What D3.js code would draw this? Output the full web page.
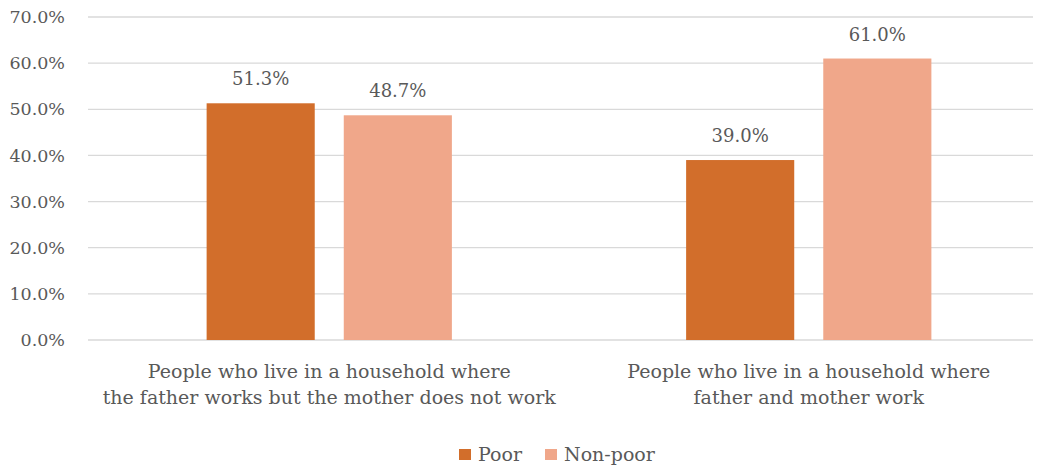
<!DOCTYPE html>
<html>
<head>
<meta charset="utf-8">
<script src="https://cdn.jsdelivr.net/npm/d3@7"></script>
<style>
  html, body { margin: 0; padding: 0; background: #fff; }
  svg text { font-family: "DejaVu Serif", "Liberation Serif", serif; fill: #595959; }
</style>
</head>
<body>
<svg id="chart" width="1043" height="470"></svg>
<script>
// Household categories (two-line labels)
const categories = [
  ["People who live in a household where", "the father works but the mother does not work"],
  ["People who live in a household where", "father and mother work"]
];
const seriesNames = ["Poor", "Non-poor"];
const poorValues = [51.3, 39.0];
const nonPoorValues = [48.7, 61.0];
const yTicks = [0, 10, 20, 30, 40, 50, 60, 70];
const seriesColors = ["#D26E2B", "#F0A78A"];

const svg = d3.select("#chart");
const plotTop = 17, plotBottom = 340, gridLeft = 88, gridRight = 1033;

const y = d3.scaleLinear().domain([0, 70]).range([plotBottom, plotTop]);
const x0 = d3.scaleBand().domain(d3.range(categories.length)).range([89.5, 1048.5]);
const x1 = d3.scaleBand().domain(seriesNames).range([0, x0.bandwidth()])
  .paddingInner(0.2117).paddingOuter(0.854);

// Gridlines
svg.append("g").selectAll("line").data(yTicks).join("line")
  .attr("x1", gridLeft).attr("x2", gridRight)
  .attr("y1", d => y(d)).attr("y2", d => y(d))
  .attr("stroke", "#d9d9d9").attr("stroke-width", 1.3);

// Y axis labels
const yAxis = d3.axisLeft(y).tickValues(yTicks).tickSize(0).tickPadding(0)
  .tickFormat(d => d.toFixed(1) + "%");
const yg = svg.append("g").attr("transform", "translate(65,0)").call(yAxis);
yg.select(".domain").remove();
yg.selectAll("text").attr("font-size", 17.5).attr("fill", "#595959")
  .style("font-family", "'DejaVu Serif', serif");

const rows = categories.map((c, i) => ({ i, vals: [poorValues[i], nonPoorValues[i]] }));

const groups = svg.append("g").selectAll("g").data(rows).join("g")
  .attr("transform", d => `translate(${x0(d.i)},0)`);

groups.selectAll("rect").data(d => d.vals.map((v, k) => ({ v, k }))).join("rect")
  .attr("x", d => x1(seriesNames[d.k]))
  .attr("width", x1.bandwidth())
  .attr("y", d => y(d.v))
  .attr("height", d => y(0) - y(d.v))
  .attr("fill", d => seriesColors[d.k]);

groups.selectAll("text.val").data(d => d.vals.map((v, k) => ({ v, k }))).join("text")
  .attr("class", "val")
  .attr("x", d => x1(seriesNames[d.k]) + x1.bandwidth() / 2)
  .attr("y", d => y(d.v) - 18)
  .attr("text-anchor", "middle")
  .attr("font-size", 18)
  .text(d => d.v.toFixed(1) + "%");

// Category labels
svg.append("g").selectAll("text").data(categories).join("text")
  .attr("text-anchor", "middle")
  .attr("font-size", 19)
  .each(function (lines, i) {
    const t = d3.select(this);
    lines.forEach((ln, j) => {
      t.append("tspan")
        .attr("x", x0(i) + x0.bandwidth() / 2)
        .attr("y", 378 + j * 26)
        .text(ln);
    });
  });

// Legend
const legend = svg.append("g");
const legendX = [459, 545];
seriesNames.forEach((name, k) => {
  legend.append("rect").attr("x", legendX[k]).attr("y", 449).attr("width", 12).attr("height", 11)
    .attr("fill", seriesColors[k]);
  legend.append("text").attr("x", legendX[k] + 19).attr("y", 461).attr("font-size", 19).text(name);
});
</script>
</body>
</html>
